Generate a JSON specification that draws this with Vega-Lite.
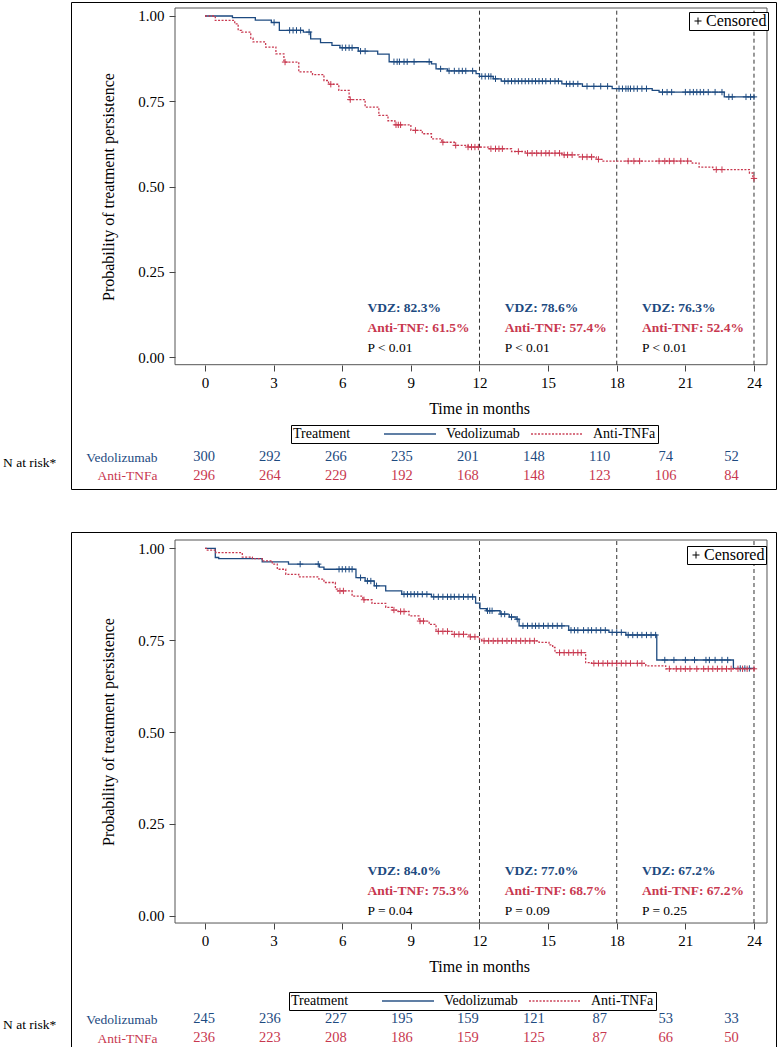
{
  "$schema": "https://vega.github.io/schema/vega-lite/v6.json",
  "padding": {"left": 2, "top": 1, "right": 0, "bottom": 0},
  "spacing": 41,
  "resolve": {
    "scale": {"color": "independent", "strokeDash": "independent", "shape": "independent", "stroke": "independent", "fill": "independent"},
    "legend": {"color": "independent", "strokeDash": "independent", "shape": "independent"}
  },
  "config": {
    "font": "Liberation Serif",
    "view": {"stroke": "black", "strokeWidth": 1},
    "axis": {"grid": false, "domain": false, "labelColor": "black", "titleColor": "black", "tickColor": "#444", "labelFontSize": 15, "titleFontSize": 16, "titleFontWeight": "normal"}
  },
  "datasets": {
    "kmA": [
      {"g":"Vedolizumab","t":0,"p":1},{"g":"Vedolizumab","t":1.2,"p":0.995},{"g":"Vedolizumab","t":2.2,"p":0.988},{"g":"Vedolizumab","t":2.9,"p":0.981},{"g":"Vedolizumab","t":3.25,"p":0.958},{"g":"Vedolizumab","t":4.3,"p":0.953},{"g":"Vedolizumab","t":4.62,"p":0.933},{"g":"Vedolizumab","t":5.05,"p":0.922},{"g":"Vedolizumab","t":5.55,"p":0.914},{"g":"Vedolizumab","t":5.9,"p":0.907},{"g":"Vedolizumab","t":6.7,"p":0.897},{"g":"Vedolizumab","t":7.55,"p":0.888},{"g":"Vedolizumab","t":8.05,"p":0.866},{"g":"Vedolizumab","t":9.9,"p":0.86},{"g":"Vedolizumab","t":10.1,"p":0.845},{"g":"Vedolizumab","t":10.6,"p":0.839},{"g":"Vedolizumab","t":11.85,"p":0.831},{"g":"Vedolizumab","t":12.0,"p":0.823},{"g":"Vedolizumab","t":12.6,"p":0.816},{"g":"Vedolizumab","t":12.95,"p":0.809},{"g":"Vedolizumab","t":15.6,"p":0.801},{"g":"Vedolizumab","t":16.5,"p":0.794},{"g":"Vedolizumab","t":17.8,"p":0.787},{"g":"Vedolizumab","t":19.55,"p":0.782},{"g":"Vedolizumab","t":19.85,"p":0.777},{"g":"Vedolizumab","t":22.7,"p":0.763},{"g":"Vedolizumab","t":24.05,"p":0.763},
      {"g":"Anti-TNFa","t":0,"p":1},{"g":"Anti-TNFa","t":0.45,"p":0.987},{"g":"Anti-TNFa","t":1.3,"p":0.977},{"g":"Anti-TNFa","t":1.45,"p":0.958},{"g":"Anti-TNFa","t":1.6,"p":0.953},{"g":"Anti-TNFa","t":2.0,"p":0.935},{"g":"Anti-TNFa","t":2.1,"p":0.924},{"g":"Anti-TNFa","t":2.65,"p":0.909},{"g":"Anti-TNFa","t":3.1,"p":0.889},{"g":"Anti-TNFa","t":3.45,"p":0.865},{"g":"Anti-TNFa","t":4.1,"p":0.836},{"g":"Anti-TNFa","t":4.7,"p":0.828},{"g":"Anti-TNFa","t":5.2,"p":0.811},{"g":"Anti-TNFa","t":5.4,"p":0.8},{"g":"Anti-TNFa","t":5.85,"p":0.782},{"g":"Anti-TNFa","t":6.3,"p":0.755},{"g":"Anti-TNFa","t":7.0,"p":0.733},{"g":"Anti-TNFa","t":7.6,"p":0.709},{"g":"Anti-TNFa","t":8.0,"p":0.693},{"g":"Anti-TNFa","t":8.3,"p":0.681},{"g":"Anti-TNFa","t":9.0,"p":0.665},{"g":"Anti-TNFa","t":9.5,"p":0.655},{"g":"Anti-TNFa","t":9.9,"p":0.64},{"g":"Anti-TNFa","t":10.35,"p":0.63},{"g":"Anti-TNFa","t":10.9,"p":0.621},{"g":"Anti-TNFa","t":11.5,"p":0.616},{"g":"Anti-TNFa","t":12.4,"p":0.611},{"g":"Anti-TNFa","t":13.4,"p":0.603},{"g":"Anti-TNFa","t":14.0,"p":0.598},{"g":"Anti-TNFa","t":15.6,"p":0.593},{"g":"Anti-TNFa","t":16.35,"p":0.587},{"g":"Anti-TNFa","t":17.1,"p":0.58},{"g":"Anti-TNFa","t":17.4,"p":0.575},{"g":"Anti-TNFa","t":21.3,"p":0.569},{"g":"Anti-TNFa","t":21.6,"p":0.557},{"g":"Anti-TNFa","t":22.2,"p":0.55},{"g":"Anti-TNFa","t":23.8,"p":0.54},{"g":"Anti-TNFa","t":23.95,"p":0.524},{"g":"Anti-TNFa","t":24.05,"p":0.524}
    ],
    "cenA": [
      {"g":"Vedolizumab","t":3.02,"p":0.981},{"g":"Vedolizumab","t":3.7,"p":0.958},{"g":"Vedolizumab","t":3.85,"p":0.958},{"g":"Vedolizumab","t":4.0,"p":0.958},{"g":"Vedolizumab","t":4.18,"p":0.958},{"g":"Vedolizumab","t":4.55,"p":0.953},{"g":"Vedolizumab","t":6.0,"p":0.907},{"g":"Vedolizumab","t":6.15,"p":0.907},{"g":"Vedolizumab","t":6.3,"p":0.907},{"g":"Vedolizumab","t":6.43,"p":0.907},{"g":"Vedolizumab","t":6.8,"p":0.897},{"g":"Vedolizumab","t":7.0,"p":0.897},{"g":"Vedolizumab","t":8.26,"p":0.866},{"g":"Vedolizumab","t":8.4,"p":0.866},{"g":"Vedolizumab","t":8.5,"p":0.866},{"g":"Vedolizumab","t":8.7,"p":0.866},{"g":"Vedolizumab","t":8.84,"p":0.866},{"g":"Vedolizumab","t":9.14,"p":0.866},{"g":"Vedolizumab","t":9.8,"p":0.866},{"g":"Vedolizumab","t":10.3,"p":0.845},{"g":"Vedolizumab","t":10.67,"p":0.839},{"g":"Vedolizumab","t":10.9,"p":0.839},{"g":"Vedolizumab","t":11.1,"p":0.839},{"g":"Vedolizumab","t":11.25,"p":0.839},{"g":"Vedolizumab","t":11.4,"p":0.839},{"g":"Vedolizumab","t":11.7,"p":0.839},{"g":"Vedolizumab","t":12.1,"p":0.823},{"g":"Vedolizumab","t":12.25,"p":0.823},{"g":"Vedolizumab","t":12.4,"p":0.823},{"g":"Vedolizumab","t":12.5,"p":0.823},{"g":"Vedolizumab","t":12.7,"p":0.816},{"g":"Vedolizumab","t":13.1,"p":0.809},{"g":"Vedolizumab","t":13.25,"p":0.809},{"g":"Vedolizumab","t":13.4,"p":0.809},{"g":"Vedolizumab","t":13.55,"p":0.809},{"g":"Vedolizumab","t":13.7,"p":0.809},{"g":"Vedolizumab","t":13.85,"p":0.809},{"g":"Vedolizumab","t":14.0,"p":0.809},{"g":"Vedolizumab","t":14.15,"p":0.809},{"g":"Vedolizumab","t":14.3,"p":0.809},{"g":"Vedolizumab","t":14.45,"p":0.809},{"g":"Vedolizumab","t":14.6,"p":0.809},{"g":"Vedolizumab","t":14.75,"p":0.809},{"g":"Vedolizumab","t":14.9,"p":0.809},{"g":"Vedolizumab","t":15.1,"p":0.809},{"g":"Vedolizumab","t":15.3,"p":0.809},{"g":"Vedolizumab","t":15.45,"p":0.809},{"g":"Vedolizumab","t":15.8,"p":0.801},{"g":"Vedolizumab","t":15.95,"p":0.801},{"g":"Vedolizumab","t":16.1,"p":0.801},{"g":"Vedolizumab","t":16.3,"p":0.801},{"g":"Vedolizumab","t":16.7,"p":0.794},{"g":"Vedolizumab","t":17.0,"p":0.794},{"g":"Vedolizumab","t":17.3,"p":0.794},{"g":"Vedolizumab","t":17.6,"p":0.794},{"g":"Vedolizumab","t":18.1,"p":0.787},{"g":"Vedolizumab","t":18.25,"p":0.787},{"g":"Vedolizumab","t":18.4,"p":0.787},{"g":"Vedolizumab","t":18.5,"p":0.787},{"g":"Vedolizumab","t":18.6,"p":0.787},{"g":"Vedolizumab","t":18.75,"p":0.787},{"g":"Vedolizumab","t":18.9,"p":0.787},{"g":"Vedolizumab","t":19.1,"p":0.787},{"g":"Vedolizumab","t":19.3,"p":0.787},{"g":"Vedolizumab","t":20.0,"p":0.777},{"g":"Vedolizumab","t":20.2,"p":0.777},{"g":"Vedolizumab","t":20.4,"p":0.777},{"g":"Vedolizumab","t":21.0,"p":0.777},{"g":"Vedolizumab","t":21.2,"p":0.777},{"g":"Vedolizumab","t":21.35,"p":0.777},{"g":"Vedolizumab","t":21.5,"p":0.777},{"g":"Vedolizumab","t":21.65,"p":0.777},{"g":"Vedolizumab","t":21.8,"p":0.777},{"g":"Vedolizumab","t":22.0,"p":0.777},{"g":"Vedolizumab","t":22.3,"p":0.777},{"g":"Vedolizumab","t":22.6,"p":0.777},{"g":"Vedolizumab","t":22.9,"p":0.763},{"g":"Vedolizumab","t":23.05,"p":0.763},{"g":"Vedolizumab","t":23.65,"p":0.763},{"g":"Vedolizumab","t":23.85,"p":0.763},{"g":"Vedolizumab","t":24.0,"p":0.763},
      {"g":"Anti-TNFa","t":3.5,"p":0.865},{"g":"Anti-TNFa","t":5.5,"p":0.8},{"g":"Anti-TNFa","t":6.35,"p":0.755},{"g":"Anti-TNFa","t":8.35,"p":0.681},{"g":"Anti-TNFa","t":8.45,"p":0.681},{"g":"Anti-TNFa","t":8.55,"p":0.681},{"g":"Anti-TNFa","t":9.2,"p":0.665},{"g":"Anti-TNFa","t":10.4,"p":0.63},{"g":"Anti-TNFa","t":10.96,"p":0.621},{"g":"Anti-TNFa","t":11.5,"p":0.616},{"g":"Anti-TNFa","t":11.65,"p":0.616},{"g":"Anti-TNFa","t":11.8,"p":0.616},{"g":"Anti-TNFa","t":11.95,"p":0.616},{"g":"Anti-TNFa","t":12.5,"p":0.611},{"g":"Anti-TNFa","t":12.7,"p":0.611},{"g":"Anti-TNFa","t":12.85,"p":0.611},{"g":"Anti-TNFa","t":13.0,"p":0.611},{"g":"Anti-TNFa","t":13.7,"p":0.603},{"g":"Anti-TNFa","t":14.1,"p":0.598},{"g":"Anti-TNFa","t":14.3,"p":0.598},{"g":"Anti-TNFa","t":14.5,"p":0.598},{"g":"Anti-TNFa","t":14.7,"p":0.598},{"g":"Anti-TNFa","t":14.9,"p":0.598},{"g":"Anti-TNFa","t":15.05,"p":0.598},{"g":"Anti-TNFa","t":15.3,"p":0.598},{"g":"Anti-TNFa","t":15.5,"p":0.598},{"g":"Anti-TNFa","t":15.7,"p":0.593},{"g":"Anti-TNFa","t":15.85,"p":0.593},{"g":"Anti-TNFa","t":16.05,"p":0.593},{"g":"Anti-TNFa","t":16.5,"p":0.587},{"g":"Anti-TNFa","t":16.7,"p":0.587},{"g":"Anti-TNFa","t":16.9,"p":0.587},{"g":"Anti-TNFa","t":17.2,"p":0.58},{"g":"Anti-TNFa","t":18.5,"p":0.575},{"g":"Anti-TNFa","t":18.75,"p":0.575},{"g":"Anti-TNFa","t":19.0,"p":0.575},{"g":"Anti-TNFa","t":19.85,"p":0.575},{"g":"Anti-TNFa","t":20.1,"p":0.575},{"g":"Anti-TNFa","t":20.3,"p":0.575},{"g":"Anti-TNFa","t":20.5,"p":0.575},{"g":"Anti-TNFa","t":20.8,"p":0.575},{"g":"Anti-TNFa","t":21.1,"p":0.575},{"g":"Anti-TNFa","t":22.35,"p":0.55},{"g":"Anti-TNFa","t":22.6,"p":0.55},{"g":"Anti-TNFa","t":24.0,"p":0.524}
    ],
    "kmB": [
      {"g":"Vedolizumab","t":0,"p":1},{"g":"Vedolizumab","t":0.45,"p":0.975},{"g":"Vedolizumab","t":0.6,"p":0.972},{"g":"Vedolizumab","t":2.5,"p":0.963},{"g":"Vedolizumab","t":3.65,"p":0.957},{"g":"Vedolizumab","t":5.0,"p":0.949},{"g":"Vedolizumab","t":5.2,"p":0.943},{"g":"Vedolizumab","t":6.6,"p":0.92},{"g":"Vedolizumab","t":7.0,"p":0.911},{"g":"Vedolizumab","t":7.4,"p":0.898},{"g":"Vedolizumab","t":7.9,"p":0.884},{"g":"Vedolizumab","t":8.6,"p":0.875},{"g":"Vedolizumab","t":9.9,"p":0.868},{"g":"Vedolizumab","t":11.83,"p":0.851},{"g":"Vedolizumab","t":12.02,"p":0.836},{"g":"Vedolizumab","t":12.3,"p":0.83},{"g":"Vedolizumab","t":12.9,"p":0.821},{"g":"Vedolizumab","t":13.3,"p":0.813},{"g":"Vedolizumab","t":13.6,"p":0.807},{"g":"Vedolizumab","t":13.73,"p":0.789},{"g":"Vedolizumab","t":15.9,"p":0.777},{"g":"Vedolizumab","t":17.66,"p":0.771},{"g":"Vedolizumab","t":18.4,"p":0.764},{"g":"Vedolizumab","t":19.75,"p":0.696},{"g":"Vedolizumab","t":23.1,"p":0.673},{"g":"Vedolizumab","t":24.05,"p":0.673},
      {"g":"Anti-TNFa","t":0,"p":1},{"g":"Anti-TNFa","t":0.1,"p":0.995},{"g":"Anti-TNFa","t":0.47,"p":0.988},{"g":"Anti-TNFa","t":1.63,"p":0.976},{"g":"Anti-TNFa","t":2.07,"p":0.972},{"g":"Anti-TNFa","t":2.5,"p":0.966},{"g":"Anti-TNFa","t":2.94,"p":0.957},{"g":"Anti-TNFa","t":3.16,"p":0.943},{"g":"Anti-TNFa","t":3.53,"p":0.929},{"g":"Anti-TNFa","t":4.1,"p":0.922},{"g":"Anti-TNFa","t":4.98,"p":0.916},{"g":"Anti-TNFa","t":5.2,"p":0.907},{"g":"Anti-TNFa","t":5.7,"p":0.889},{"g":"Anti-TNFa","t":5.8,"p":0.884},{"g":"Anti-TNFa","t":6.43,"p":0.87},{"g":"Anti-TNFa","t":6.9,"p":0.86},{"g":"Anti-TNFa","t":7.3,"p":0.85},{"g":"Anti-TNFa","t":7.9,"p":0.839},{"g":"Anti-TNFa","t":8.19,"p":0.832},{"g":"Anti-TNFa","t":8.45,"p":0.828},{"g":"Anti-TNFa","t":8.92,"p":0.816},{"g":"Anti-TNFa","t":9.35,"p":0.802},{"g":"Anti-TNFa","t":9.8,"p":0.793},{"g":"Anti-TNFa","t":10.1,"p":0.774},{"g":"Anti-TNFa","t":10.8,"p":0.766},{"g":"Anti-TNFa","t":11.54,"p":0.759},{"g":"Anti-TNFa","t":12.0,"p":0.753},{"g":"Anti-TNFa","t":12.1,"p":0.748},{"g":"Anti-TNFa","t":14.6,"p":0.744},{"g":"Anti-TNFa","t":15.04,"p":0.737},{"g":"Anti-TNFa","t":15.2,"p":0.73},{"g":"Anti-TNFa","t":15.3,"p":0.716},{"g":"Anti-TNFa","t":16.64,"p":0.689},{"g":"Anti-TNFa","t":16.9,"p":0.687},{"g":"Anti-TNFa","t":19.27,"p":0.68},{"g":"Anti-TNFa","t":20.14,"p":0.672},{"g":"Anti-TNFa","t":24.05,"p":0.672}
    ],
    "cenB": [
      {"g":"Vedolizumab","t":4.16,"p":0.957},{"g":"Vedolizumab","t":4.95,"p":0.957},{"g":"Vedolizumab","t":5.86,"p":0.943},{"g":"Vedolizumab","t":6.0,"p":0.943},{"g":"Vedolizumab","t":6.15,"p":0.943},{"g":"Vedolizumab","t":6.3,"p":0.943},{"g":"Vedolizumab","t":6.43,"p":0.943},{"g":"Vedolizumab","t":6.8,"p":0.92},{"g":"Vedolizumab","t":7.1,"p":0.911},{"g":"Vedolizumab","t":7.25,"p":0.911},{"g":"Vedolizumab","t":7.5,"p":0.898},{"g":"Vedolizumab","t":8.7,"p":0.875},{"g":"Vedolizumab","t":8.85,"p":0.875},{"g":"Vedolizumab","t":9.0,"p":0.875},{"g":"Vedolizumab","t":9.15,"p":0.875},{"g":"Vedolizumab","t":9.3,"p":0.875},{"g":"Vedolizumab","t":9.5,"p":0.875},{"g":"Vedolizumab","t":9.7,"p":0.875},{"g":"Vedolizumab","t":10.0,"p":0.868},{"g":"Vedolizumab","t":10.2,"p":0.868},{"g":"Vedolizumab","t":10.4,"p":0.868},{"g":"Vedolizumab","t":10.6,"p":0.868},{"g":"Vedolizumab","t":10.75,"p":0.868},{"g":"Vedolizumab","t":10.9,"p":0.868},{"g":"Vedolizumab","t":11.1,"p":0.868},{"g":"Vedolizumab","t":11.3,"p":0.868},{"g":"Vedolizumab","t":11.5,"p":0.868},{"g":"Vedolizumab","t":11.7,"p":0.868},{"g":"Vedolizumab","t":12.35,"p":0.83},{"g":"Vedolizumab","t":12.45,"p":0.83},{"g":"Vedolizumab","t":12.55,"p":0.83},{"g":"Vedolizumab","t":12.95,"p":0.821},{"g":"Vedolizumab","t":13.1,"p":0.821},{"g":"Vedolizumab","t":13.4,"p":0.813},{"g":"Vedolizumab","t":13.65,"p":0.807},{"g":"Vedolizumab","t":13.9,"p":0.789},{"g":"Vedolizumab","t":14.1,"p":0.789},{"g":"Vedolizumab","t":14.3,"p":0.789},{"g":"Vedolizumab","t":14.45,"p":0.789},{"g":"Vedolizumab","t":14.6,"p":0.789},{"g":"Vedolizumab","t":14.8,"p":0.789},{"g":"Vedolizumab","t":15.0,"p":0.789},{"g":"Vedolizumab","t":15.2,"p":0.789},{"g":"Vedolizumab","t":15.4,"p":0.789},{"g":"Vedolizumab","t":15.6,"p":0.789},{"g":"Vedolizumab","t":16.0,"p":0.777},{"g":"Vedolizumab","t":16.15,"p":0.777},{"g":"Vedolizumab","t":16.3,"p":0.777},{"g":"Vedolizumab","t":16.55,"p":0.777},{"g":"Vedolizumab","t":16.75,"p":0.777},{"g":"Vedolizumab","t":16.9,"p":0.777},{"g":"Vedolizumab","t":17.1,"p":0.777},{"g":"Vedolizumab","t":17.3,"p":0.777},{"g":"Vedolizumab","t":17.5,"p":0.777},{"g":"Vedolizumab","t":17.8,"p":0.771},{"g":"Vedolizumab","t":18.0,"p":0.771},{"g":"Vedolizumab","t":18.2,"p":0.771},{"g":"Vedolizumab","t":18.5,"p":0.764},{"g":"Vedolizumab","t":18.7,"p":0.764},{"g":"Vedolizumab","t":18.9,"p":0.764},{"g":"Vedolizumab","t":19.1,"p":0.764},{"g":"Vedolizumab","t":19.3,"p":0.764},{"g":"Vedolizumab","t":19.5,"p":0.764},{"g":"Vedolizumab","t":19.7,"p":0.764},{"g":"Vedolizumab","t":20.1,"p":0.696},{"g":"Vedolizumab","t":20.5,"p":0.696},{"g":"Vedolizumab","t":21.0,"p":0.696},{"g":"Vedolizumab","t":21.4,"p":0.696},{"g":"Vedolizumab","t":21.9,"p":0.696},{"g":"Vedolizumab","t":22.05,"p":0.696},{"g":"Vedolizumab","t":22.3,"p":0.696},{"g":"Vedolizumab","t":22.6,"p":0.696},{"g":"Vedolizumab","t":22.85,"p":0.696},{"g":"Vedolizumab","t":23.4,"p":0.673},{"g":"Vedolizumab","t":23.6,"p":0.673},{"g":"Vedolizumab","t":23.8,"p":0.673},
      {"g":"Anti-TNFa","t":5.9,"p":0.884},{"g":"Anti-TNFa","t":6.05,"p":0.884},{"g":"Anti-TNFa","t":6.95,"p":0.86},{"g":"Anti-TNFa","t":8.26,"p":0.832},{"g":"Anti-TNFa","t":8.55,"p":0.828},{"g":"Anti-TNFa","t":8.7,"p":0.828},{"g":"Anti-TNFa","t":9.4,"p":0.802},{"g":"Anti-TNFa","t":9.55,"p":0.802},{"g":"Anti-TNFa","t":10.2,"p":0.774},{"g":"Anti-TNFa","t":10.4,"p":0.774},{"g":"Anti-TNFa","t":10.6,"p":0.774},{"g":"Anti-TNFa","t":10.9,"p":0.766},{"g":"Anti-TNFa","t":11.1,"p":0.766},{"g":"Anti-TNFa","t":11.3,"p":0.766},{"g":"Anti-TNFa","t":11.6,"p":0.759},{"g":"Anti-TNFa","t":11.8,"p":0.759},{"g":"Anti-TNFa","t":12.2,"p":0.748},{"g":"Anti-TNFa","t":12.4,"p":0.748},{"g":"Anti-TNFa","t":12.6,"p":0.748},{"g":"Anti-TNFa","t":12.8,"p":0.748},{"g":"Anti-TNFa","t":13.0,"p":0.748},{"g":"Anti-TNFa","t":13.2,"p":0.748},{"g":"Anti-TNFa","t":13.4,"p":0.748},{"g":"Anti-TNFa","t":13.6,"p":0.748},{"g":"Anti-TNFa","t":13.8,"p":0.748},{"g":"Anti-TNFa","t":14.0,"p":0.748},{"g":"Anti-TNFa","t":14.2,"p":0.748},{"g":"Anti-TNFa","t":14.4,"p":0.748},{"g":"Anti-TNFa","t":15.5,"p":0.716},{"g":"Anti-TNFa","t":15.7,"p":0.716},{"g":"Anti-TNFa","t":15.9,"p":0.716},{"g":"Anti-TNFa","t":16.1,"p":0.716},{"g":"Anti-TNFa","t":16.3,"p":0.716},{"g":"Anti-TNFa","t":16.45,"p":0.716},{"g":"Anti-TNFa","t":17.0,"p":0.687},{"g":"Anti-TNFa","t":17.2,"p":0.687},{"g":"Anti-TNFa","t":17.4,"p":0.687},{"g":"Anti-TNFa","t":17.6,"p":0.687},{"g":"Anti-TNFa","t":17.8,"p":0.687},{"g":"Anti-TNFa","t":18.0,"p":0.687},{"g":"Anti-TNFa","t":18.2,"p":0.687},{"g":"Anti-TNFa","t":18.4,"p":0.687},{"g":"Anti-TNFa","t":18.6,"p":0.687},{"g":"Anti-TNFa","t":18.9,"p":0.687},{"g":"Anti-TNFa","t":19.1,"p":0.687},{"g":"Anti-TNFa","t":20.3,"p":0.672},{"g":"Anti-TNFa","t":20.6,"p":0.672},{"g":"Anti-TNFa","t":20.8,"p":0.672},{"g":"Anti-TNFa","t":21.0,"p":0.672},{"g":"Anti-TNFa","t":21.2,"p":0.672},{"g":"Anti-TNFa","t":21.5,"p":0.672},{"g":"Anti-TNFa","t":21.8,"p":0.672},{"g":"Anti-TNFa","t":22.0,"p":0.672},{"g":"Anti-TNFa","t":22.2,"p":0.672},{"g":"Anti-TNFa","t":22.4,"p":0.672},{"g":"Anti-TNFa","t":22.6,"p":0.672},{"g":"Anti-TNFa","t":22.8,"p":0.672},{"g":"Anti-TNFa","t":23.0,"p":0.672},{"g":"Anti-TNFa","t":23.3,"p":0.672},{"g":"Anti-TNFa","t":23.5,"p":0.672},{"g":"Anti-TNFa","t":23.7,"p":0.672},{"g":"Anti-TNFa","t":24.0,"p":0.672}
    ],
    "riskA": [
      {"g":"Vedolizumab","t":0,"n":300},{"g":"Vedolizumab","t":3,"n":292},{"g":"Vedolizumab","t":6,"n":266},{"g":"Vedolizumab","t":9,"n":235},{"g":"Vedolizumab","t":12,"n":201},{"g":"Vedolizumab","t":15,"n":148},{"g":"Vedolizumab","t":18,"n":110},{"g":"Vedolizumab","t":21,"n":74},{"g":"Vedolizumab","t":24,"n":52},
      {"g":"Anti-TNFa","t":0,"n":296},{"g":"Anti-TNFa","t":3,"n":264},{"g":"Anti-TNFa","t":6,"n":229},{"g":"Anti-TNFa","t":9,"n":192},{"g":"Anti-TNFa","t":12,"n":168},{"g":"Anti-TNFa","t":15,"n":148},{"g":"Anti-TNFa","t":18,"n":123},{"g":"Anti-TNFa","t":21,"n":106},{"g":"Anti-TNFa","t":24,"n":84}
    ],
    "riskB": [
      {"g":"Vedolizumab","t":0,"n":245},{"g":"Vedolizumab","t":3,"n":236},{"g":"Vedolizumab","t":6,"n":227},{"g":"Vedolizumab","t":9,"n":195},{"g":"Vedolizumab","t":12,"n":159},{"g":"Vedolizumab","t":15,"n":121},{"g":"Vedolizumab","t":18,"n":87},{"g":"Vedolizumab","t":21,"n":53},{"g":"Vedolizumab","t":24,"n":33},
      {"g":"Anti-TNFa","t":0,"n":236},{"g":"Anti-TNFa","t":3,"n":223},{"g":"Anti-TNFa","t":6,"n":208},{"g":"Anti-TNFa","t":9,"n":186},{"g":"Anti-TNFa","t":12,"n":159},{"g":"Anti-TNFa","t":15,"n":125},{"g":"Anti-TNFa","t":18,"n":87},{"g":"Anti-TNFa","t":21,"n":66},{"g":"Anti-TNFa","t":24,"n":50}
    ],
    "annA": [
      {"m":12,"vdz":"VDZ: 82.3%","anti":"Anti-TNF: 61.5%","pv":"P < 0.01"},
      {"m":18,"vdz":"VDZ: 78.6%","anti":"Anti-TNF: 57.4%","pv":"P < 0.01"},
      {"m":24,"vdz":"VDZ: 76.3%","anti":"Anti-TNF: 52.4%","pv":"P < 0.01"}
    ],
    "annB": [
      {"m":12,"vdz":"VDZ: 84.0%","anti":"Anti-TNF: 75.3%","pv":"P = 0.04"},
      {"m":18,"vdz":"VDZ: 77.0%","anti":"Anti-TNF: 68.7%","pv":"P = 0.09"},
      {"m":24,"vdz":"VDZ: 67.2%","anti":"Anti-TNF: 67.2%","pv":"P = 0.25"}
    ]
  },
  "vconcat": [
    {
      "width": 705,
      "height": 487,
      "layer": [
        {
          "data": {"values": [{}]},
          "mark": {"type": "rect", "filled": false, "color": "#555", "strokeWidth": 1},
          "encoding": {
            "x": {"datum": -1.311, "type": "quantitative", "scale": {"domain": [-5.858, 24.962], "nice": false, "zero": false}, "axis": null},
            "x2": {"datum": 24.568},
            "y": {"datum": -0.0217, "type": "quantitative", "scale": {"domain": [-0.3859, 1.041], "nice": false, "zero": false}, "axis": null},
            "y2": {"datum": 1.0234}
          }
        },
        {
          "data": {"values": [{"m": 12}, {"m": 18}, {"m": 24}]},
          "mark": {"type": "rule", "strokeDash": [4, 3], "color": "#333", "strokeWidth": 1},
          "encoding": {
            "x": {"field": "m", "type": "quantitative", "scale": {"domain": [-5.858, 24.962], "nice": false, "zero": false}, "axis": null},
            "y": {"datum": -0.0217, "type": "quantitative", "scale": {"domain": [-0.3859, 1.041], "nice": false, "zero": false}, "axis": null},
            "y2": {"datum": 1.0234}
          }
        },
        {
          "data": {"name": "kmA"},
          "mark": {"type": "line", "interpolate": "step-after", "strokeWidth": 1.3},
          "encoding": {
            "x": {"field": "t", "type": "quantitative", "scale": {"domain": [-5.858, 24.962], "nice": false, "zero": false},
              "axis": {"orient": "bottom", "offset": -124, "values": [0,3,6,9,12,15,18,21,24], "format": "d", "tickSize": 6, "labelPadding": 4, "title": "Time in months", "titlePadding": 10, "titleX": 408}},
            "y": {"field": "p", "type": "quantitative", "scale": {"domain": [-0.3859, 1.041], "nice": false, "zero": false},
              "axis": {"orient": "left", "offset": -104, "values": [0,0.25,0.5,0.75,1], "format": ".2f", "tickSize": 6, "labelPadding": 5, "title": "Probability of treatment persistence", "titlePadding": 21, "titleY": 184.5}},
            "color": {"field": "g", "type": "nominal", "scale": {"domain": ["Vedolizumab", "Anti-TNFa"], "range": ["#1d4a80", "#c8384f"]},
              "legend": {"title": "Treatment", "orient": "none", "legendX": 220, "legendY": 423, "direction": "horizontal", "titleOrient": "left", "strokeColor": "black", "fillColor": "white", "padding": 2, "symbolType": "stroke", "symbolSize": 2704, "symbolStrokeWidth": 2, "symbolOpacity": 0.7, "clipHeight": 14, "labelFontSize": 14, "titleFontSize": 14, "titleFontWeight": "normal", "labelOffset": 9, "columnPadding": 10, "titlePadding": 32, "labelColor": "black", "titleColor": "black"}},
            "strokeDash": {"field": "g", "type": "nominal", "scale": {"domain": ["Vedolizumab", "Anti-TNFa"], "range": [[1, 0], [2, 1.5]]},
              "legend": {"title": "Treatment", "orient": "none", "legendX": 220, "legendY": 423, "direction": "horizontal", "titleOrient": "left", "strokeColor": "black", "fillColor": "white", "padding": 2, "symbolType": "stroke", "symbolSize": 2704, "symbolStrokeWidth": 2, "symbolOpacity": 0.7, "clipHeight": 14, "labelFontSize": 14, "titleFontSize": 14, "titleFontWeight": "normal", "labelOffset": 9, "columnPadding": 10, "titlePadding": 32, "labelColor": "black", "titleColor": "black"}}
          }
        },
        {
          "data": {"name": "cenA"},
          "mark": {"type": "point", "filled": false, "size": 40, "strokeWidth": 1, "opacity": 1, "color": "black"},
          "encoding": {
            "x": {"field": "t", "type": "quantitative", "scale": {"domain": [-5.858, 24.962], "nice": false, "zero": false}, "axis": null},
            "y": {"field": "p", "type": "quantitative", "scale": {"domain": [-0.3859, 1.041], "nice": false, "zero": false}, "axis": null},
            "stroke": {"field": "g", "type": "nominal", "scale": {"domain": ["Vedolizumab", "Anti-TNFa"], "range": ["#1d4a80", "#c8384f"]}, "legend": null},
            "shape": {"datum": "Censored", "type": "nominal", "scale": {"domain": ["Censored"], "range": ["M-1,0L1,0M0,-1L0,1"]},
              "legend": {"title": null, "orient": "none", "legendX": 618, "legendY": 10, "strokeColor": "black", "fillColor": "white", "padding": 1, "labelFontSize": 16, "symbolSize": 49, "symbolStrokeColor": "black", "symbolFillColor": "transparent", "symbolStrokeWidth": 1, "labelOffset": 0, "clipHeight": 16, "labelColor": "black"}}
          }
        },
        {
          "data": {"name": "annA"},
          "mark": {"type": "text", "align": "left", "baseline": "middle", "dx": -112, "fontSize": 13.5, "fontWeight": "bold", "color": "#1d4a80"},
          "encoding": {"x": {"field": "m", "type": "quantitative", "scale": {"domain": [-5.858, 24.962], "nice": false, "zero": false}, "axis": null}, "y": {"datum": 0.1444, "type": "quantitative", "scale": {"domain": [-0.3859, 1.041], "nice": false, "zero": false}, "axis": null}, "text": {"field": "vdz"}}
        },
        {
          "data": {"name": "annA"},
          "mark": {"type": "text", "align": "left", "baseline": "middle", "dx": -112, "fontSize": 13.5, "fontWeight": "bold", "color": "#c8384f"},
          "encoding": {"x": {"field": "m", "type": "quantitative", "scale": {"domain": [-5.858, 24.962], "nice": false, "zero": false}, "axis": null}, "y": {"datum": 0.0858, "type": "quantitative", "scale": {"domain": [-0.3859, 1.041], "nice": false, "zero": false}, "axis": null}, "text": {"field": "anti"}}
        },
        {
          "data": {"name": "annA"},
          "mark": {"type": "text", "align": "left", "baseline": "middle", "dx": -112, "fontSize": 13.5, "color": "black"},
          "encoding": {"x": {"field": "m", "type": "quantitative", "scale": {"domain": [-5.858, 24.962], "nice": false, "zero": false}, "axis": null}, "y": {"datum": 0.0272, "type": "quantitative", "scale": {"domain": [-0.3859, 1.041], "nice": false, "zero": false}, "axis": null}, "text": {"field": "pv"}}
        },
        {
          "data": {"name": "riskA"},
          "mark": {"type": "text", "fontSize": 14.5, "baseline": "middle", "align": "center"},
          "encoding": {
            "x": {"field": "t", "type": "quantitative", "scale": {"domain": [-6.051, 26.02], "nice": false, "zero": false}, "axis": null},
            "y": {"field": "g", "type": "nominal", "scale": {"type": "point", "domain": ["Vedolizumab", "Anti-TNFa"], "range": [455, 473.5], "padding": 0},
              "axis": {"orient": "left", "offset": -86, "ticks": false, "tickSize": 0, "labelPadding": 0, "labelFontSize": 13.5, "labelColor": {"condition": {"test": "datum.value === 'Vedolizumab'", "value": "#1d4a80"}, "value": "#c8384f"}, "title": "N at risk*", "titleAngle": 0, "titleAlign": "right", "titleBaseline": "middle", "titleY": 460, "titlePadding": 30, "titleFontSize": 13.5, "titleFontWeight": "normal"}},
            "fill": {"field": "g", "type": "nominal", "scale": {"domain": ["Vedolizumab", "Anti-TNFa"], "range": ["#1d4a80", "#c8384f"]}, "legend": null},
            "text": {"field": "n"}
          }
        }
      ],
      "resolve": {"scale": {"x": "independent", "y": "independent"}, "axis": {"x": "independent", "y": "independent"}}
    },
    {
      "width": 705,
      "height": 518,
      "layer": [
        {
          "data": {"values": [{}]},
          "mark": {"type": "rect", "filled": false, "color": "#555", "strokeWidth": 1},
          "encoding": {
            "x": {"datum": -1.311, "type": "quantitative", "scale": {"domain": [-5.858, 24.962], "nice": false, "zero": false}, "axis": null},
            "x2": {"datum": 24.568},
            "y": {"datum": -0.0199, "type": "quantitative", "scale": {"domain": [-0.3655, 1.0444], "nice": false, "zero": false}, "axis": null},
            "y2": {"datum": 1.0226}
          }
        },
        {
          "data": {"values": [{"m": 12}, {"m": 18}, {"m": 24}]},
          "mark": {"type": "rule", "strokeDash": [4, 3], "color": "#333", "strokeWidth": 1},
          "encoding": {
            "x": {"field": "m", "type": "quantitative", "scale": {"domain": [-5.858, 24.962], "nice": false, "zero": false}, "axis": null},
            "y": {"datum": -0.0199, "type": "quantitative", "scale": {"domain": [-0.3655, 1.0444], "nice": false, "zero": false}, "axis": null},
            "y2": {"datum": 1.0226}
          }
        },
        {
          "data": {"name": "kmB"},
          "mark": {"type": "line", "interpolate": "step-after", "strokeWidth": 1.3},
          "encoding": {
            "x": {"field": "t", "type": "quantitative", "scale": {"domain": [-5.858, 24.962], "nice": false, "zero": false},
              "axis": {"orient": "bottom", "offset": -127, "values": [0,3,6,9,12,15,18,21,24], "format": "d", "tickSize": 6, "labelPadding": 4, "title": "Time in months", "titlePadding": 10, "titleX": 408}},
            "y": {"field": "p", "type": "quantitative", "scale": {"domain": [-0.3655, 1.0444], "nice": false, "zero": false},
              "axis": {"orient": "left", "offset": -104, "values": [0,0.25,0.5,0.75,1], "format": ".2f", "tickSize": 6, "labelPadding": 5, "title": "Probability of treatment persistence", "titlePadding": 21, "titleY": 199.5}},
            "color": {"field": "g", "type": "nominal", "scale": {"domain": ["Vedolizumab", "Anti-TNFa"], "range": ["#1d4a80", "#c8384f"]},
              "legend": {"title": "Treatment", "orient": "none", "legendX": 218, "legendY": 460, "direction": "horizontal", "titleOrient": "left", "strokeColor": "black", "fillColor": "white", "padding": 2, "symbolType": "stroke", "symbolSize": 2704, "symbolStrokeWidth": 2, "symbolOpacity": 0.7, "clipHeight": 14, "labelFontSize": 14, "titleFontSize": 14, "titleFontWeight": "normal", "labelOffset": 9, "columnPadding": 10, "titlePadding": 32, "labelColor": "black", "titleColor": "black"}},
            "strokeDash": {"field": "g", "type": "nominal", "scale": {"domain": ["Vedolizumab", "Anti-TNFa"], "range": [[1, 0], [2, 1.5]]},
              "legend": {"title": "Treatment", "orient": "none", "legendX": 218, "legendY": 460, "direction": "horizontal", "titleOrient": "left", "strokeColor": "black", "fillColor": "white", "padding": 2, "symbolType": "stroke", "symbolSize": 2704, "symbolStrokeWidth": 2, "symbolOpacity": 0.7, "clipHeight": 14, "labelFontSize": 14, "titleFontSize": 14, "titleFontWeight": "normal", "labelOffset": 9, "columnPadding": 10, "titlePadding": 32, "labelColor": "black", "titleColor": "black"}}
          }
        },
        {
          "data": {"name": "cenB"},
          "mark": {"type": "point", "filled": false, "size": 40, "strokeWidth": 1, "opacity": 1, "color": "black"},
          "encoding": {
            "x": {"field": "t", "type": "quantitative", "scale": {"domain": [-5.858, 24.962], "nice": false, "zero": false}, "axis": null},
            "y": {"field": "p", "type": "quantitative", "scale": {"domain": [-0.3655, 1.0444], "nice": false, "zero": false}, "axis": null},
            "stroke": {"field": "g", "type": "nominal", "scale": {"domain": ["Vedolizumab", "Anti-TNFa"], "range": ["#1d4a80", "#c8384f"]}, "legend": null},
            "shape": {"datum": "Censored", "type": "nominal", "scale": {"domain": ["Censored"], "range": ["M-1,0L1,0M0,-1L0,1"]},
              "legend": {"title": null, "orient": "none", "legendX": 616, "legendY": 14, "strokeColor": "black", "fillColor": "white", "padding": 1, "labelFontSize": 16, "symbolSize": 49, "symbolStrokeColor": "black", "symbolFillColor": "transparent", "symbolStrokeWidth": 1, "labelOffset": 0, "clipHeight": 16, "labelColor": "black"}}
          }
        },
        {
          "data": {"name": "annB"},
          "mark": {"type": "text", "align": "left", "baseline": "middle", "dx": -112, "fontSize": 13.5, "fontWeight": "bold", "color": "#1d4a80"},
          "encoding": {"x": {"field": "m", "type": "quantitative", "scale": {"domain": [-5.858, 24.962], "nice": false, "zero": false}, "axis": null}, "y": {"datum": 0.1209, "type": "quantitative", "scale": {"domain": [-0.3655, 1.0444], "nice": false, "zero": false}, "axis": null}, "text": {"field": "vdz"}}
        },
        {
          "data": {"name": "annB"},
          "mark": {"type": "text", "align": "left", "baseline": "middle", "dx": -112, "fontSize": 13.5, "fontWeight": "bold", "color": "#c8384f"},
          "encoding": {"x": {"field": "m", "type": "quantitative", "scale": {"domain": [-5.858, 24.962], "nice": false, "zero": false}, "axis": null}, "y": {"datum": 0.0664, "type": "quantitative", "scale": {"domain": [-0.3655, 1.0444], "nice": false, "zero": false}, "axis": null}, "text": {"field": "anti"}}
        },
        {
          "data": {"name": "annB"},
          "mark": {"type": "text", "align": "left", "baseline": "middle", "dx": -112, "fontSize": 13.5, "color": "black"},
          "encoding": {"x": {"field": "m", "type": "quantitative", "scale": {"domain": [-5.858, 24.962], "nice": false, "zero": false}, "axis": null}, "y": {"datum": 0.0136, "type": "quantitative", "scale": {"domain": [-0.3655, 1.0444], "nice": false, "zero": false}, "axis": null}, "text": {"field": "pv"}}
        },
        {
          "data": {"name": "riskB"},
          "mark": {"type": "text", "fontSize": 14.5, "baseline": "middle", "align": "center"},
          "encoding": {
            "x": {"field": "t", "type": "quantitative", "scale": {"domain": [-6.051, 26.02], "nice": false, "zero": false}, "axis": null},
            "y": {"field": "g", "type": "nominal", "scale": {"type": "point", "domain": ["Vedolizumab", "Anti-TNFa"], "range": [487, 506], "padding": 0},
              "axis": {"orient": "left", "offset": -86, "ticks": false, "tickSize": 0, "labelPadding": 0, "labelFontSize": 13.5, "labelColor": {"condition": {"test": "datum.value === 'Vedolizumab'", "value": "#1d4a80"}, "value": "#c8384f"}, "title": "N at risk*", "titleAngle": 0, "titleAlign": "right", "titleBaseline": "middle", "titleY": 492.7, "titlePadding": 30, "titleFontSize": 13.5, "titleFontWeight": "normal"}},
            "fill": {"field": "g", "type": "nominal", "scale": {"domain": ["Vedolizumab", "Anti-TNFa"], "range": ["#1d4a80", "#c8384f"]}, "legend": null},
            "text": {"field": "n"}
          }
        }
      ],
      "resolve": {"scale": {"x": "independent", "y": "independent"}, "axis": {"x": "independent", "y": "independent"}}
    }
  ]
}
